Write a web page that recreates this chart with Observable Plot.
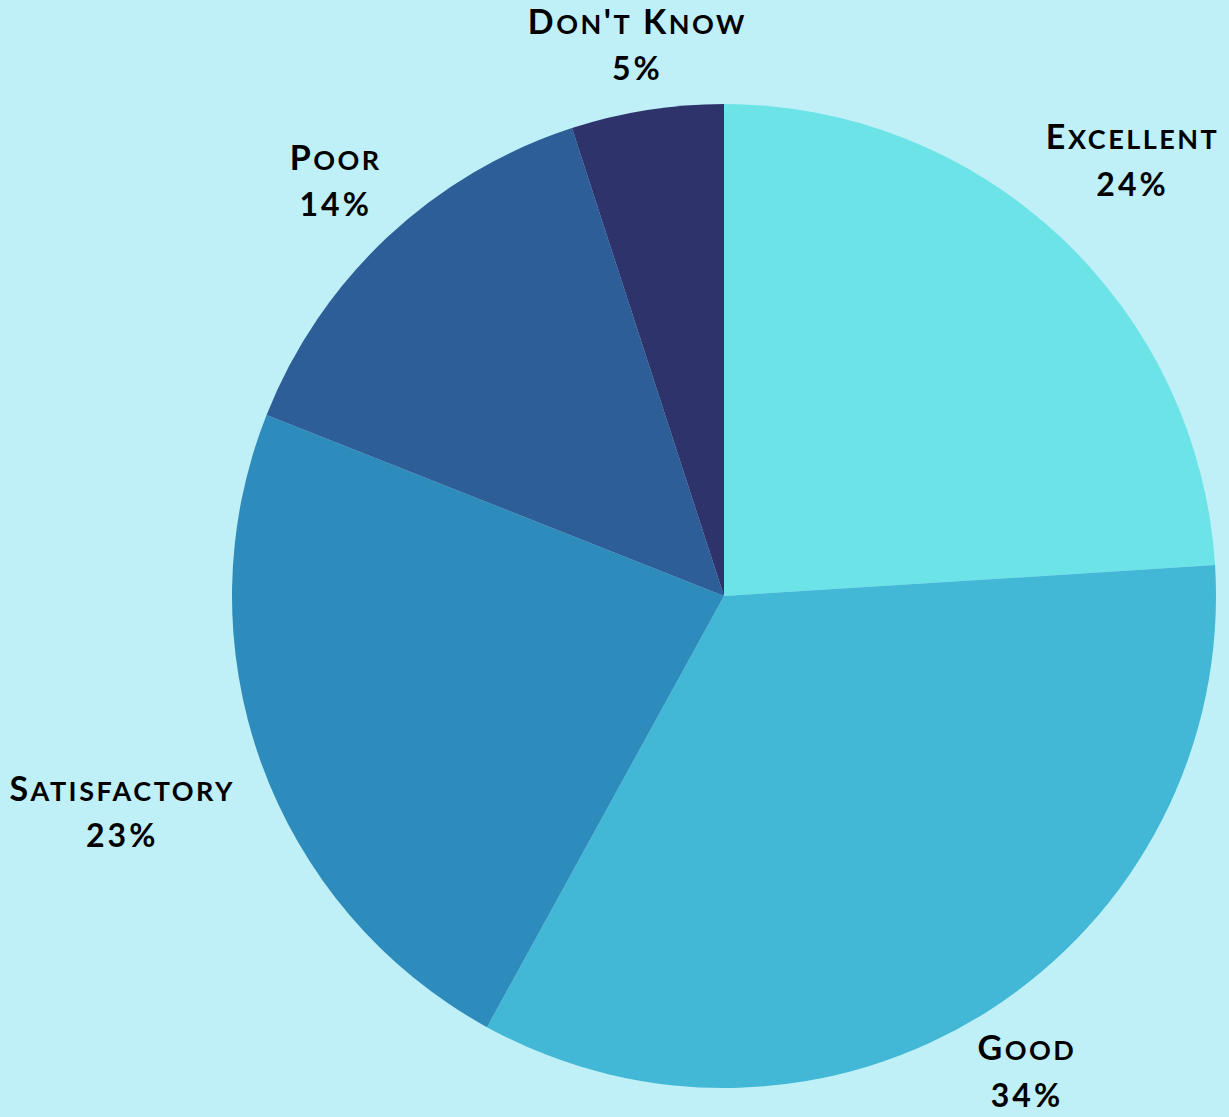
<!DOCTYPE html>
<html>
<head>
<meta charset="utf-8">
<script src="https://cdn.jsdelivr.net/npm/d3@7"></script>
<script src="https://cdn.jsdelivr.net/npm/@observablehq/plot@0.6"></script>
<style>
  html, body { margin: 0; padding: 0; background: #bff0f7; }
  #chart { width: 1229px; height: 1117px; }
  .cat text { letter-spacing: 2.5px; }
  .pct text { letter-spacing: 3px; }
  .sc { text-transform: uppercase; }
</style>
</head>
<body>
<div id="chart"></div>
<script>
const categories = ["Excellent", "Good", "Satisfactory", "Poor", "Don't Know"];
const values = [24, 34, 23, 14, 5];
const colors = ["#6be3e7", "#43b7d6", "#2d8cbb", "#2d5e97", "#2f336b"];

const W = 1229, H = 1117;
const CX = 724, CY = 596, R = 492;
const FONT = "Lato, 'Noto Sans', sans-serif";
const CAT_FS = 34;
const SC_FS = 27;
const PCT_FS = 32;
const LINE_GAP = 47;

const total = d3.sum(values);
const pie = d3.pie().sort(null).value(d => d.value);
const arcs = pie(categories.map((c, i) => ({category: c, value: values[i], color: colors[i]})));

// measure label widths (caps at CAT_FS, lowercase as small caps at SC_FS)
const ctx = document.createElement("canvas").getContext("2d");
function labelWidth(str) {
  let w = 0;
  for (const ch of str) {
    const lower = ch !== ch.toUpperCase();
    ctx.font = `bold ${lower ? SC_FS : CAT_FS}px ${FONT}`;
    w += ctx.measureText(ch.toUpperCase()).width + 2.5;
  }
  return w;
}
const labels = arcs.map(a => {
  const mid = (a.startAngle + a.endAngle) / 2;
  const s = Math.sin(mid), c = Math.cos(mid);
  const hw = labelWidth(a.data.category) / 2;
  const hh = 13;
  const off = R + 35 + Math.abs(s) * hw + Math.abs(c) * hh;
  return {
    x: (off * s) / R,
    y: (off * c) / R,
    category: a.data.category,
    pct: `${Math.round(a.data.value / total * 100)}%`
  };
});

function slices(index, scales, vals, dims) {
  const x0 = scales.x(0), y0 = scales.y(0);
  const r = scales.x(1) - scales.x(0);
  const arc = d3.arc().innerRadius(0).outerRadius(r);
  const g = d3.create("svg:g").attr("transform", `translate(${x0},${y0})`);
  g.selectAll("path").data(arcs).join("path")
    .attr("d", arc)
    .attr("fill", d => d.data.color);
  return g.node();
}

const chart = Plot.plot({
  width: W,
  height: H,
  margin: 0,
  style: {background: "#bff0f7"},
  x: {domain: [-CX / R, (W - CX) / R], axis: null},
  y: {domain: [-(H - CY) / R, CY / R], axis: null},
  marks: [
    slices,
    Plot.text(labels, {
      x: "x", y: "y", text: "category",
      dy: -LINE_GAP / 2,
      fontFamily: FONT,
      fontSize: CAT_FS,
      fontWeight: "bold",
      fill: "#000",
      textAnchor: "middle",
      className: "cat"
    }),
    Plot.text(labels, {
      x: "x", y: "y", text: "pct",
      dy: LINE_GAP / 2,
      fontFamily: FONT,
      fontSize: PCT_FS,
      fontWeight: "bold",
      fill: "#000",
      textAnchor: "middle",
      className: "pct"
    })
  ]
});

// render lowercase runs as small capitals (real text kept)
d3.select(chart).selectAll("g.cat text").each(function () {
  const str = this.textContent;
  const el = d3.select(this);
  el.text(null);
  const runs = [];
  for (const ch of str) {
    const lower = ch !== ch.toUpperCase();
    if (runs.length && runs[runs.length - 1].lower === lower) runs[runs.length - 1].t += ch;
    else runs.push({lower, t: ch});
  }
  for (const r of runs) {
    const ts = el.append("tspan").text(r.t);
    if (r.lower) ts.attr("class", "sc").attr("font-size", SC_FS);
  }
});

document.getElementById("chart").append(chart);
</script>
</body>
</html>
